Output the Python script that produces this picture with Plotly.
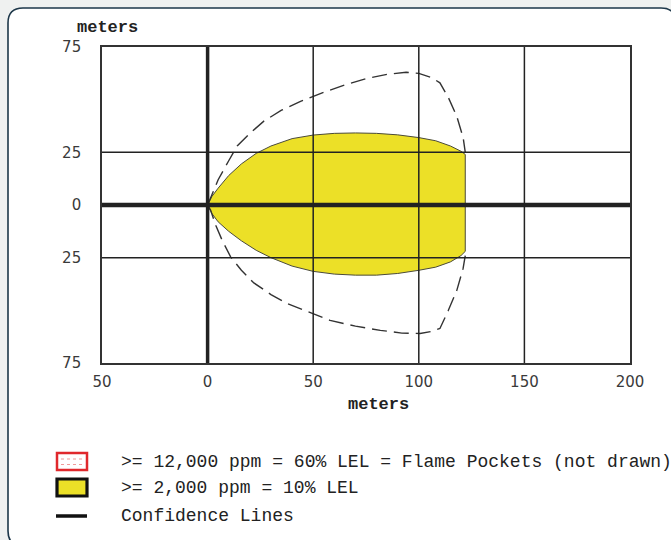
import plotly.graph_objects as go

# Threat zone footprint (meters downwind / crosswind)
zone_x = [0, 2, 5, 10, 16, 23, 30, 40, 50, 60, 70, 80, 90, 100, 108, 115, 120, 122,
          122, 120, 115, 108, 100, 90, 80, 70, 60, 50, 40, 30, 23, 16, 10, 5, 2, 0]
zone_y = [0, 4, 8, 14, 19.5, 24.5, 28, 31.5, 33.2, 34, 34.2, 34, 33.3, 32, 30.5, 28, 25.5, 24,
          -22, -24, -27, -29.5, -31, -32.5, -33.3, -33.3, -32.8, -31.5, -29, -25, -21.5, -17, -12.5, -8, -4, 0]

# Confidence lines (wind direction uncertainty)
conf_upper_x = [0, 2, 5, 10, 14, 20, 26.5, 35, 44, 55, 65, 75, 85, 94, 100, 106, 110, 114, 118, 121, 122]
conf_upper_y = [0, 5, 12, 21, 28, 34, 39.7, 45, 49.2, 53.5, 57, 60, 62, 63, 62.5, 60.5, 58, 51, 42, 32, 25]
conf_lower_x = [0, 1.4, 4, 7, 10.9, 16, 21.9, 30, 37.7, 48, 58, 70, 81.8, 92, 100.6, 106, 110, 114, 118, 121, 122]
conf_lower_y = [0, -2.4, -10, -17, -24.6, -31, -37, -42.5, -46.8, -51, -54.8, -57.5, -59.5, -60.8, -61, -60, -58.6, -50, -40.5, -30, -24]

x_ticks = [-50, 0, 50, 100, 150, 200]
x_tick_text = ["50", "0", "50", "100", "150", "200"]
y_ticks = [-75, -25, 0, 25, 75]
y_tick_text = ["75", "25", "0", "25", "75"]
grid_x = [0, 50, 100, 150]
grid_y = [-25, 0, 25]

legend_labels = [
    ">= 12,000 ppm = 60% LEL = Flame Pockets (not drawn)",
    ">= 2,000 ppm = 10% LEL",
    "Confidence Lines",
]

W, H = 671, 540
ML, MR, MT, MB = 102, 41, 47, 177
PW, PH = W - ML - MR, H - MT - MB


def px(x):
    return (x - ML) / PW


def py(y):
    return (H - MB - y) / PH


fig = go.Figure()

fig.add_trace(go.Scatter(
    x=zone_x, y=zone_y, mode="lines", fill="toself",
    fillcolor="#ece027", line=dict(color="#4a4a3a", width=1),
    hoverinfo="skip", showlegend=False))

for cx, cy in [(conf_upper_x, conf_upper_y), (conf_lower_x, conf_lower_y)]:
    fig.add_trace(go.Scatter(
        x=cx, y=cy, mode="lines",
        line=dict(color="#333333", width=1.4, dash="15px,7px"),
        hoverinfo="skip", showlegend=False))

shapes = []

# Panel frame
x0, y0, x1, y1, r = 8, 8, 676, 546, 15
path = (f"M {px(x0)},{py(y0 + r)} Q {px(x0)},{py(y0)} {px(x0 + r)},{py(y0)} "
        f"L {px(x1 - r)},{py(y0)} Q {px(x1)},{py(y0)} {px(x1)},{py(y0 + r)} "
        f"L {px(x1)},{py(y1 - r)} Q {px(x1)},{py(y1)} {px(x1 - r)},{py(y1)} "
        f"L {px(x0 + r)},{py(y1)} Q {px(x0)},{py(y1)} {px(x0)},{py(y1 - r)} Z")
shapes.append(dict(type="path", path=path, xref="paper", yref="paper",
                   fillcolor="white", line=dict(color="#1d3749", width=1.6),
                   layer="below"))

# Grid lines
for gx in grid_x:
    shapes.append(dict(type="line", xref="x", yref="y", x0=gx, x1=gx, y0=-75, y1=75,
                       line=dict(color="#222222", width=3.5 if gx == 0 else 1.5),
                       layer="above"))
for gy in grid_y:
    shapes.append(dict(type="line", xref="x", yref="y", x0=-50, x1=200, y0=gy, y1=gy,
                       line=dict(color="#222222", width=4.5 if gy == 0 else 1.5),
                       layer="above"))

# Legend symbols
shapes.append(dict(type="rect", xref="paper", yref="paper",
                   x0=px(57), x1=px(87), y0=py(470), y1=py(453),
                   fillcolor="white", line=dict(color="#e0282c", width=2.5)))
for ly in (459, 464.5):
    shapes.append(dict(type="line", xref="paper", yref="paper",
                       x0=px(61), x1=px(83), y0=py(ly), y1=py(ly),
                       line=dict(color="#f09a9a", width=1.2, dash="dot")))
shapes.append(dict(type="rect", xref="paper", yref="paper",
                   x0=px(57), x1=px(87), y0=py(496), y1=py(479),
                   fillcolor="#ece027", line=dict(color="#111111", width=3.2)))
shapes.append(dict(type="line", xref="paper", yref="paper",
                   x0=px(56), x1=px(87), y0=py(516), y1=py(516),
                   line=dict(color="#111111", width=3.5)))

annotations = []
mono = "Liberation Mono"
annotations.append(dict(text="meters", xref="paper", yref="paper",
                        x=px(107), y=py(27), xanchor="center", yanchor="middle",
                        showarrow=False, font=dict(family=mono, size=17, color="#222222", weight="bold")))
annotations.append(dict(text="meters", xref="paper", yref="paper",
                        x=px(378), y=py(404), xanchor="center", yanchor="middle",
                        showarrow=False, font=dict(family=mono, size=17, color="#222222", weight="bold")))
for label, ly in zip(legend_labels, [462, 488, 516]):
    annotations.append(dict(text=label, xref="paper", yref="paper",
                            x=px(119), y=py(ly), xanchor="left", yanchor="middle",
                            showarrow=False,
                            font=dict(family=mono, size=18, color="#222222")))

tick_font = dict(family="DejaVu Sans", size=15, color="#3a3a3a")
fig.update_layout(
    width=W, height=H,
    margin=dict(l=ML, r=MR, t=MT, b=MB, pad=0),
    paper_bgcolor="#eff1f0",
    plot_bgcolor="white",
    shapes=shapes,
    annotations=annotations,
    xaxis=dict(range=[-50, 200], tickvals=x_ticks, ticktext=x_tick_text,
               showgrid=False, zeroline=False, showline=True, mirror=True,
               linecolor="#333333", linewidth=1.6, ticks="", tickfont=tick_font,
               ticklabelstandoff=4, fixedrange=True),
    yaxis=dict(range=[-75, 75], tickvals=y_ticks, ticktext=y_tick_text,
               showgrid=False, zeroline=False, showline=True, mirror=True,
               linecolor="#333333", linewidth=1.6, ticks="", tickfont=tick_font,
               ticklabelstandoff=16, fixedrange=True),
    showlegend=False,
)

fig.write_html("out.html")
